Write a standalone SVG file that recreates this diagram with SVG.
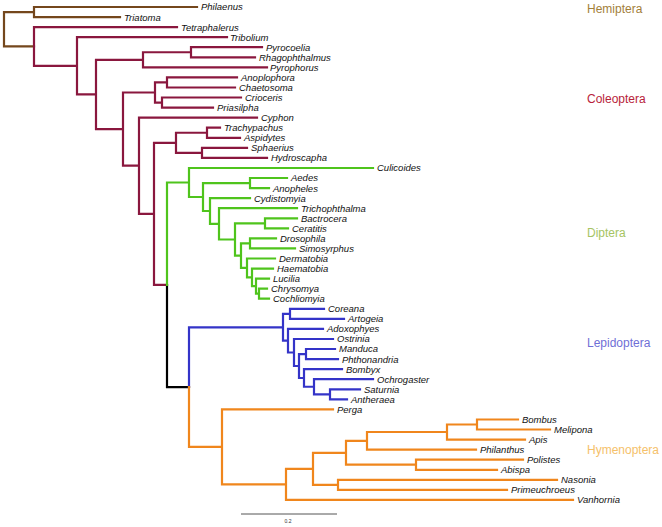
<svg xmlns="http://www.w3.org/2000/svg" width="662" height="527" viewBox="0 0 662 527">
<style>
.br{fill:none;stroke-width:2.2;stroke-linecap:square}
.hem{stroke:#74471c}.col{stroke:#8a173e}.dip{stroke:#4fc41c}.lep{stroke:#3434c8}.hym{stroke:#f0861c}.blk{stroke:#000}
.tip{font-family:"Liberation Sans",Arial,sans-serif;font-style:italic;font-size:9.5px;fill:#111}
.cl{font-family:"Liberation Sans",Arial,sans-serif;font-size:12px}
</style>
<rect width="662" height="527" fill="#fff"/>
<g id="connectors">
<path class="br hem" d="M4,12.05V46.45M4,12.05H34M4,46.45H34M34,7V17.1M34,7H197M34,17.1H120"/>
<path class="br col" d="M34,27.1V65.8M34,27.1H177M34,65.8H77M77,37.2V94.45M77,37.2H227M77,94.45H96M96,59.8V129.1M96,59.8H143M96,129.1H123M143,52.25V67.4M143,52.25H191M143,67.4H267M191,47.2V57.3M191,47.2H262M191,57.3H255M123,92.5V165.7M123,92.5H155M123,165.7H139M155,82.45V102.55M155,82.45H167M155,102.55H162M167,77.4V87.5M167,77.4H237M167,87.5H235M162,97.5V107.6M162,97.5H241M162,107.6H213M139,117.7V213.8M139,117.7H257M139,213.8H154M154,142.8V284.8M154,142.8H176M154,284.8H167M176,132.75V152.85M176,132.75H207M176,152.85H202M207,127.7V137.8M207,127.7H220M207,137.8H240M202,147.8V157.9M202,147.8H247M202,157.9H267"/>
<path class="br blk" d="M167,284.8V387.1H189"/>
<path class="br dip" d="M167,182.5V284.8M167,182.5H189M189,168V197M189,168H373M189,197H203M203,183.05V211M203,183.05H250M203,211H210M250,178V188.1M250,178H287M250,188.1H269M210,198.1V223.9M210,198.1H250M210,223.9H219M219,208.2V239.5M219,208.2H297M219,239.5H235M235,223.3V255.7M235,223.3H265M235,255.7H241M265,218.3V228.3M265,218.3H297M265,228.3H288M241,243.4V267.9M241,243.4H250M241,267.9H247M250,238.4V248.4M250,238.4H276M250,248.4H295M247,258.5V277.4M247,258.5H275M247,277.4H252M252,268.6V286.2M252,268.6H273M252,286.2H256M256,278.6V293.7M256,278.6H269M256,293.7H259M259,288.7V298.7M259,288.7H267M259,298.7H269"/>
<path class="br lep" d="M189,327.3V387.1M189,327.3H283M283,313.85V340.7M283,313.85H290M283,340.7H288M290,308.8V318.9M290,308.8H324M290,318.9H344M288,328.9V352.5M288,328.9H323M288,352.5H294M294,339V366M294,339H333M294,366H299M299,354.05V378M299,354.05H306M299,378H304M306,349V359.1M306,349H335M306,359.1H338M304,369.2V386.75M304,369.2H342M304,386.75H314M314,379.2V394.3M314,379.2H373M314,394.3H330M330,389.3V399.3M330,389.3H360M330,399.3H347"/>
<path class="br hym" d="M189,387.1V446.9M189,446.9H222M222,409.4V484.4M222,409.4H333M222,484.4H286M286,468.8V499.9M286,468.8H313M286,499.9H573M313,452.8V484.85M313,452.8H346M313,484.85H338M338,479.8V489.9M338,479.8H557M338,489.9H507M346,440.8V464.7M346,440.8H367M346,464.7H416M416,459.7V469.8M416,459.7H523M416,469.8H497M367,432V449.6M367,432H447M367,449.6H476M447,424.5V439.6M447,424.5H477M447,439.6H525M477,419.5V429.5M477,419.5H518M477,429.5H550"/>
<path d="M241,514H337" stroke="#555" stroke-width="1" fill="none"/>
</g>
<g id="tips">
<g id="t-Philaenus"><text class="tip" x="201" y="10.4">Philaenus</text></g>
<g id="t-Triatoma"><text class="tip" x="124" y="20.5">Triatoma</text></g>
<g id="t-Tetraphalerus"><text class="tip" x="181" y="30.5">Tetraphalerus</text></g>
<g id="t-Tribolium"><text class="tip" x="230" y="40.6">Tribolium</text></g>
<g id="t-Pyrocoelia"><text class="tip" x="266" y="50.6">Pyrocoelia</text></g>
<g id="t-Rhagophthalmus"><text class="tip" x="259" y="60.7">Rhagophthalmus</text></g>
<g id="t-Pyrophorus"><text class="tip" x="270" y="70.8">Pyrophorus</text></g>
<g id="t-Anoplophora"><text class="tip" x="241" y="80.8">Anoplophora</text></g>
<g id="t-Chaetosoma"><text class="tip" x="239" y="90.9">Chaetosoma</text></g>
<g id="t-Crioceris"><text class="tip" x="245" y="100.9">Crioceris</text></g>
<g id="t-Priasilpha"><text class="tip" x="217" y="111">Priasilpha</text></g>
<g id="t-Cyphon"><text class="tip" x="261" y="121.1">Cyphon</text></g>
<g id="t-Trachypachus"><text class="tip" x="224" y="131.1">Trachypachus</text></g>
<g id="t-Aspidytes"><text class="tip" x="244" y="141.2">Aspidytes</text></g>
<g id="t-Sphaerius"><text class="tip" x="251" y="151.2">Sphaerius</text></g>
<g id="t-Hydroscapha"><text class="tip" x="271" y="161.3">Hydroscapha</text></g>
<g id="t-Culicoides"><text class="tip" x="377" y="171.4">Culicoides</text></g>
<g id="t-Aedes"><text class="tip" x="291" y="181.4">Aedes</text></g>
<g id="t-Anopheles"><text class="tip" x="273" y="191.5">Anopheles</text></g>
<g id="t-Cydistomyia"><text class="tip" x="254" y="201.5">Cydistomyia</text></g>
<g id="t-Trichophthalma"><text class="tip" x="301" y="211.6">Trichophthalma</text></g>
<g id="t-Bactrocera"><text class="tip" x="301" y="221.7">Bactrocera</text></g>
<g id="t-Ceratitis"><text class="tip" x="292" y="231.7">Ceratitis</text></g>
<g id="t-Drosophila"><text class="tip" x="280" y="241.8">Drosophila</text></g>
<g id="t-Simosyrphus"><text class="tip" x="299" y="251.8">Simosyrphus</text></g>
<g id="t-Dermatobia"><text class="tip" x="279" y="261.9">Dermatobia</text></g>
<g id="t-Haematobia"><text class="tip" x="277" y="272">Haematobia</text></g>
<g id="t-Lucilia"><text class="tip" x="273" y="282">Lucilia</text></g>
<g id="t-Chrysomya"><text class="tip" x="271" y="292.1">Chrysomya</text></g>
<g id="t-Cochliomyia"><text class="tip" x="273" y="302.1">Cochliomyia</text></g>
<g id="t-Coreana"><text class="tip" x="328" y="312.2">Coreana</text></g>
<g id="t-Artogeia"><text class="tip" x="348" y="322.3">Artogeia</text></g>
<g id="t-Adoxophyes"><text class="tip" x="327" y="332.3">Adoxophyes</text></g>
<g id="t-Ostrinia"><text class="tip" x="337" y="342.4">Ostrinia</text></g>
<g id="t-Manduca"><text class="tip" x="339" y="352.4">Manduca</text></g>
<g id="t-Phthonandria"><text class="tip" x="342" y="362.5">Phthonandria</text></g>
<g id="t-Bombyx"><text class="tip" x="346" y="372.6">Bombyx</text></g>
<g id="t-Ochrogaster"><text class="tip" x="377" y="382.6">Ochrogaster</text></g>
<g id="t-Saturnia"><text class="tip" x="364" y="392.7">Saturnia</text></g>
<g id="t-Antheraea"><text class="tip" x="351" y="402.7">Antheraea</text></g>
<g id="t-Perga"><text class="tip" x="337" y="412.8">Perga</text></g>
<g id="t-Bombus"><text class="tip" x="522" y="422.9">Bombus</text></g>
<g id="t-Melipona"><text class="tip" x="554" y="432.9">Melipona</text></g>
<g id="t-Apis"><text class="tip" x="529" y="443">Apis</text></g>
<g id="t-Philanthus"><text class="tip" x="480" y="453">Philanthus</text></g>
<g id="t-Polistes"><text class="tip" x="527" y="463.1">Polistes</text></g>
<g id="t-Abispa"><text class="tip" x="501" y="473.2">Abispa</text></g>
<g id="t-Nasonia"><text class="tip" x="561" y="483.2">Nasonia</text></g>
<g id="t-Primeuchroeus"><text class="tip" x="511" y="493.3">Primeuchroeus</text></g>
<g id="t-Vanhornia"><text class="tip" x="577" y="503.3">Vanhornia</text></g>
</g>
<g id="clades">
<g id="c-Hemiptera"><text class="cl" x="587" y="13" fill="#a3803a">Hemiptera</text></g>
<g id="c-Coleoptera"><text class="cl" x="587" y="103" fill="#b8233a">Coleoptera</text></g>
<g id="c-Diptera"><text class="cl" x="587" y="237" fill="#a6c463">Diptera</text></g>
<g id="c-Lepidoptera"><text class="cl" x="587" y="347" fill="#6f6fd6">Lepidoptera</text></g>
<g id="c-Hymenoptera"><text class="cl" x="587" y="454" fill="#f5c16a">Hymenoptera</text></g>
</g>
<g id="scale"><text x="288" y="523" font-family="Liberation Sans, Arial, sans-serif" font-size="5" text-anchor="middle" fill="#333">0.2</text></g>
</svg>
